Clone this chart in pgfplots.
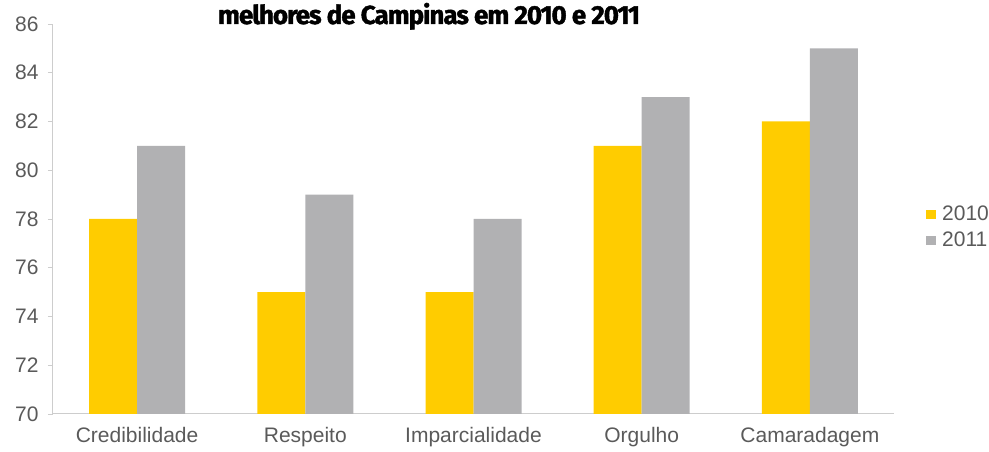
\documentclass[border=0pt]{standalone}
\usepackage{pgfplots}
\pgfplotsset{compat=1.18}
\usepackage{fontspec}
\setmainfont{Liberation Sans}
\newfontfamily\titlefont[LetterSpace=-4.0,FakeBold=1.6]{Fira Sans}
\definecolor{barY}{HTML}{FFCC00}
\definecolor{barG}{HTML}{B1B1B3}
\definecolor{axgray}{HTML}{CDCDCD}
\definecolor{lblgray}{HTML}{5A5A5A}
\begin{document}
\begin{tikzpicture}
\useasboundingbox (0,0) rectangle (989pt,452pt);
\begin{axis}[
  at={(53pt,38pt)}, anchor=south west,
  scale only axis, width=841pt, height=390pt,
  ymin=70, ymax=86, ytick={70,72,...,86},
  xmin=-0.5, xmax=4.5,
  xtick={0,1,2,3,4},
  xticklabels={Credibilidade,Respeito,Imparcialidade,Orgulho,Camaradagem},
  extra x ticks={-0.5,0.5,1.5,2.5,3.5,4.5},
  extra x tick labels={},
  extra x tick style={major tick length=5pt, tick style={axgray, line width=0.8pt}},
  axis x line*=bottom, axis y line*=left,
  axis line style={axgray, line width=1pt, -},
  x tick style={draw=none},
  y tick style={axgray, line width=0.8pt},
  tick align=outside, major tick length=5pt,
  ticklabel style={font=\fontsize{21}{21}\selectfont, text=lblgray},
  yticklabel style={xshift=-6pt},
  xticklabel style={yshift=-5pt},
  ybar=0pt, bar width=48pt,
  legend style={at={(1.038,0.479)}, anchor=west, draw=none, fill=none,
    font=\fontsize{21}{21}\selectfont, text=lblgray,
    row sep=6pt, inner sep=0pt,
    /tikz/every odd column/.append style={column sep=4pt}},
  legend cell align=left,
  legend image code/.code={\fill[#1] (0pt,-4.5pt) rectangle (10pt,4.5pt);},
  /pgf/number format/assume math mode=true,
]
\addplot[fill=barY, draw=none] coordinates {(0,78) (1,75) (2,75) (3,81) (4,82)};
\addplot[fill=barG, draw=none] coordinates {(0,81) (1,79) (2,78) (3,83) (4,85)};
\legend{2010,2011}
\end{axis}
\node[anchor=base, inner sep=0pt] at (429pt,428pt) {\resizebox{422pt}{!}{\titlefont\bfseries\fontsize{23}{23}\selectfont melhores de Campinas em 2010 e 2011}};
\end{tikzpicture}
\end{document}
